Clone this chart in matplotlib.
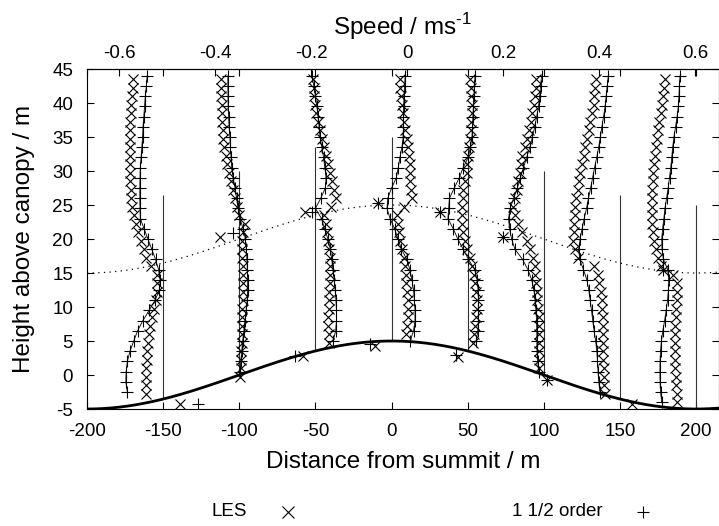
import numpy as np
import matplotlib
matplotlib.use('Agg')
import matplotlib.pyplot as plt
from matplotlib.lines import Line2D

plt.rcParams['font.family'] = ['Liberation Sans', 'DejaVu Sans']
plt.rcParams['mathtext.fontset'] = 'custom'
plt.rcParams['mathtext.rm'] = 'Liberation Sans'
plt.rcParams['axes.unicode_minus'] = False

# hill shape: h(x) = HILL_H * cos(pi * x / HILL_L)
HILL_H = 5.0
HILL_L = 200.0
LAYER_OFFSET = 20.0   # dotted line above surface
MAST_HEIGHT = 30.0    # vertical reference lines
stations = [-150, -100, -50, 0, 50, 100, 150, 200]

# top axis: speed = (x - SPEED_X0) / SPEED_SCALE
SPEED_X0 = 10.2
SPEED_SCALE = 315.0
speed_ticks = [-0.6, -0.4, -0.2, 0, 0.2, 0.4, 0.6]
speed_labels = ['-0.6', '-0.4', '-0.2', '0', '0.2', '0.4', '0.6']
dist_ticks = [-200, -150, -100, -50, 0, 50, 100, 150, 200]
height_ticks = [-5, 0, 5, 10, 15, 20, 25, 30, 35, 40, 45]

# heights of the plotted levels (top down), profiles stop at the ground
LES_Z = [43.5, 42.25, 41, 39.75, 38.5, 37.25, 36, 34.75, 33.5, 32.25, 31, 29.75,
         28.5, 27.25, 26, 24.75, 23.5, 22.25, 21, 19.75, 18.5, 17.25, 16, 14.75,
         13.5, 12.25, 11, 9.75, 8.5, 7.25, 6, 4.75, 3.5, 2.25, 1, -0.25, -1.5,
         -2.75, -4]
ORD_Z = [44, 42.5, 41, 39.5, 38, 36.5, 35, 33.5, 32, 30.5, 29, 27.5, 26, 24.5,
         23, 21.5, 20, 18.5, 17, 15.5, 14, 12.5, 11, 9.5, 8, 6.5, 5, 3.5, 2, 0.5,
         -1, -2.5, -4]

# LES profiles (x position of each level)
les_a = [-169.5, -170, -170.5, -171, -171.3, -171.6, -171.8, -172, -172, -172, -172,
         -171.8, -171.6, -171.3, -171, -170.3, -169.3, -168, -166.5, -164.8, -162.5,
         -161, -158, -154, -154, -154, -154.5, -156, -157.5, -158.7, -159.5, -160,
         -160.4, -160.7, -161, -161, -161.2, -161.2]
les_b = [-112, -112, -111.8, -111.6, -111.4, -111.2, -111, -110.7, -110, -109, -107.8,
         -106.8, -105.6, -104, -103, -101.5, -100, -96.5, -97.5, -98.5, -98.3, -98,
         -97.8, -97.5, -97.5, -97.6, -97.8, -98, -98.2, -98.4, -98.4, -98.5, -98.6,
         -98.8, -99, -99.5]
les_c = [-51.3, -51, -50.7, -50.2, -49.5, -48.5, -47.3, -46, -44.5, -42.8, -41.5,
         -40.4, -38.8, -37.5, -36.3, -40, -44.5, -43.3, -42.2, -41.5, -41, -40.6,
         -40.5, -40.5, -40.7, -41, -41.2, -41.4, -41.5, -41.5, -41.3, -41]
les_d = [5.6, 5.8, 6.1, 6.6, 7.3, 8.1, 9, 9.9, 10.7, 11.5, 11.9, 12.2, 12.3, 12.6,
         13.3, 8, 3.5, 4.2, 4.9, 5.7, 7, 8, 8.7, 9.2, 9.7, 10.1, 10.6, 11, 11, 10.4, 9.4]
les_e = [51.6, 52, 52.4, 52.7, 52.5, 52.2, 51.9, 51.5, 51, 50.4, 49.8, 49.3, 48.2,
         47.1, 47, 46.5, 46.3, 46, 46.8, 48.2, 49.8, 51.2, 53, 54, 54.8, 55.4, 56, 56,
         55.6, 55, 54.3, 53.7]
les_f = [95, 94.6, 94, 93.3, 92.4, 91.3, 90.1, 88.9, 87.3, 85.7, 85, 84.4, 83.3, 82.2,
         81, 80, 81.2, 82.8, 85.5, 88.8, 91, 93, 94.2, 94.5, 95, 95.4, 95.8, 96.2,
         96.5, 96.5, 96.5, 96.5, 96.5, 96.5, 96.5]
les_g = [134.5, 133.8, 133.2, 132.6, 131.6, 130.5, 129.4, 128.3, 127.2, 126.1, 125,
         123.8, 123, 122.2, 121.4, 120.5, 120.2, 119.9, 119.6, 119.4, 120.5, 122.6,
         133, 135.5, 136.5, 137.3, 138, 138.3, 138.6, 138.8, 139, 139, 139, 139,
         139.2, 139.5, 139.8, 140.2]
les_h = [179.3, 178.7, 178.1, 177.4, 176.6, 175.8, 175, 174.1, 173.6, 173.1, 172.5,
         171.9, 171.6, 171.3, 171, 170.8, 171, 171.3, 171.6, 172, 173.5, 175, 177,
         185, 187.3, 187.3, 187.3, 187, 186.7, 186.4, 186.2, 186.2, 186.2, 186.2,
         186.3, 186.5, 186.8, 187.2, 187.5]

# 1 1/2 order closure profiles
ord_a = [-160.5, -161, -161.7, -162.2, -162.7, -163.2, -163.5, -164, -164.5, -165,
         -165.2, -165.3, -165.3, -165.2, -165, -162.5, -160, -157.5, -155, -153, -152,
         -152.5, -155.3, -159.2, -163.3, -166.8, -169.3, -171.8, -173.5, -174.3,
         -174.5, -173.5]
ord_b = [-107.5, -107.5, -107.4, -107.3, -107, -106.7, -106.2, -105.8, -105.4, -105,
         -104, -102.8, -101.8, -100.8, -99.5, -97.5, -96, -95.3, -95, -94.7, -94.5,
         -94.5, -94.8, -95.5, -96.3, -97, -97.8, -98.4, -99, -99.5]
ord_c = [-52.3, -51, -50, -49, -48.3, -47.6, -47, -45.8, -44.7, -43.8, -43, -43.5,
         -46.5, -50, -46, -44, -41.8, -40.2, -39.3, -38.5, -37.6, -37, -36.5, -36.2,
         -36.2, -36.7, -38.4]
ord_d = [8.9, 8.6, 8.2, 7.9, 7.8, 7.8, 7.6, 6.8, 5.5, 4.4, 3.1, 0, -2.5, -3, -1, 2,
         4.2, 6.5, 10, 12, 13.4, 14.4, 15, 15.4, 15.4, 14.4, 12.2]
ord_e = [54.8, 54.4, 54, 53.7, 53.4, 53.1, 52.8, 51.8, 50.3, 47, 44.4, 41.2, 38, 37.5,
         37, 40.5, 43.5, 47, 50.5, 54.5, 56.2, 56.8, 57, 57, 57, 56.7, 55.5]
ord_f = [98.5, 97.8, 97.2, 96.5, 95.3, 94, 92.5, 90.8, 88.7, 86.6, 84.6, 82.6, 80.2,
         77.8, 76.8, 77.5, 78.8, 81, 86, 89.5, 92, 93.5, 94.2, 94.8, 95.2, 95.4, 95.4,
         95.5, 96, 96.5]
ord_g = [142.3, 141.6, 140.9, 140.2, 139.2, 138.1, 137.1, 136, 134.7, 133.3, 132,
         130.7, 129.3, 128, 126.5, 125.1, 123.8, 122.9, 123.5, 126, 128.2, 129.5,
         130.4, 131.3, 132.1, 133, 134, 134.8, 135.2, 135.6, 136, 136.9]
ord_h = [189.4, 189, 188.7, 188.3, 187.5, 186.5, 185.4, 184.6, 184, 183.3, 182.5,
         181.6, 180.6, 179.5, 178.8, 178, 177.4, 177.6, 178.5, 181.3, 182, 181.8,
         181.2, 180.3, 179.3, 178.1, 177.2, 176.6, 176.3, 176.2, 176.3, 176.6, 177.4]

# isolated points
les_extra_x = [-139, -112.6, -56.8, -58, -8.7, -10.8, 31.9, 43.7, 73.2, 101.9, 157.7, 178.4]
les_extra_z = [-4.3, 20.3, 24, 2.8, 25.3, 4.2, 24, 2.7, 20.3, -0.7, -4.3, 15.4]
ord_extra_x = [-127, -104, -52.5, -63.4, -8.7, -14, 31.9, 42, 73.2, 101.9, 178.4]
ord_extra_z = [-4.3, 20.9, 24, 2.8, 25.3, 4.5, 24, 3.0, 20.3, -0.7, 15.4]

les_profiles = [les_a, les_b, les_c, les_d, les_e, les_f, les_g, les_h]
ord_profiles = [ord_a, ord_b, ord_c, ord_d, ord_e, ord_f, ord_g, ord_h]


def hill(x):
    return HILL_H * np.cos(np.pi * np.asarray(x, dtype=float) / HILL_L)


fig = plt.figure(figsize=(7.19, 5.26), dpi=100)
ax = fig.add_axes([87 / 719, 117 / 526, 632 / 719, 340 / 526])

xs = np.linspace(-200, 215, 400)
ax.plot(xs, hill(xs), color='k', lw=2.0, zorder=3)
ax.plot(xs, hill(xs) + LAYER_OFFSET, color='k', lw=0.9, ls=(0, (1, 3.5)))
ax.vlines(stations, hill(stations), hill(stations) + MAST_HEIGHT,
          color='0.2', lw=0.8)

for px in les_profiles:
    ax.plot(px, LES_Z[:len(px)], ls='none', marker='x', ms=7.5, mew=0.8, color='k')
for px in ord_profiles:
    ax.plot(px, ORD_Z[:len(px)], '-', lw=0.6, marker='+', ms=9, mew=0.8, color='k')
ax.plot(les_extra_x, les_extra_z, ls='none', marker='x', ms=7.5, mew=0.8, color='k')
ax.plot(ord_extra_x, ord_extra_z, ls='none', marker='+', ms=9, mew=0.8, color='k')

ax.set_xlim(-200, 215)
ax.set_ylim(-5, 45)
ax.set_xticks(dist_ticks)
ax.set_yticks(height_ticks)
ax.tick_params(axis='both', direction='in', length=5, labelsize=13.5)
ax.tick_params(axis='x', top=True, pad=10)
ax.tick_params(axis='y', right=True, pad=10)
ax.set_xlabel('Distance from summit / m', fontsize=17.5, labelpad=8)
ax.set_ylabel('Height above canopy / m', fontsize=17.5, labelpad=12)

sec = ax.secondary_xaxis('top', functions=(lambda x: (x - SPEED_X0) / SPEED_SCALE,
                                            lambda s: s * SPEED_SCALE + SPEED_X0))
sec.set_xticks(speed_ticks)
sec.set_xticklabels(speed_labels)
sec.tick_params(direction='in', length=5, labelsize=13.5, pad=5)
sec.set_xlabel('Speed / ms$^{\\text{-}1}$', fontsize=17.5, labelpad=7)

# key below the plot
ky = 1 - 512 / 526
fig.text(247 / 719, ky, 'LES', ha='right', va='center', fontsize=13.5)
fig.add_artist(Line2D([288 / 719], [ky], marker='x', ms=8, mew=0.8, color='k',
                      transform=fig.transFigure))
fig.text(603 / 719, ky, '1 1/2 order', ha='right', va='center', fontsize=13.5)
fig.add_artist(Line2D([643 / 719], [ky], marker='+', ms=9, mew=0.8, color='k',
                      transform=fig.transFigure))

fig.savefig('out.png', dpi=100)
